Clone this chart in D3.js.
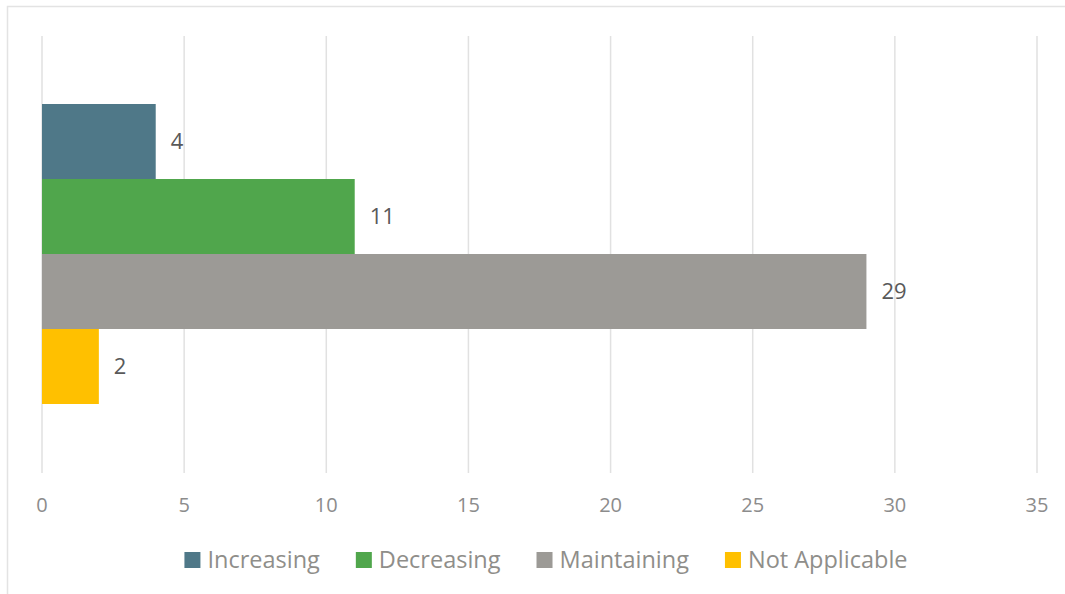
<!DOCTYPE html>
<html>
<head>
<meta charset="utf-8">
<script src="https://cdn.jsdelivr.net/npm/d3@7"></script>
<style>
  body { margin: 0; background: #fff; }
  text { font-family: "Open Sans", "Noto Sans", sans-serif; }
</style>
</head>
<body>
<svg id="chart"></svg>
<script>
const categories = ["Increasing", "Decreasing", "Maintaining", "Not Applicable"];
const values = [4, 11, 29, 2];
const colors = ["#4f7888", "#50a64c", "#9c9a96", "#ffc000"];
const ticks = [0, 5, 10, 15, 20, 25, 30, 35];

const w = 1065;
const h = 594;

const svg = d3.select("#chart")
              .attr("width", w)
              .attr("height", h);

// outer frame
svg.append("rect")
   .attr("x", 7.5)
   .attr("y", 6.5)
   .attr("width", w + 10)
   .attr("height", h + 10)
   .attr("fill", "none")
   .attr("stroke", "#e3e3e3")
   .attr("stroke-width", 1.5);

const x = d3.scaleLinear()
            .domain([0, 35])
            .range([42, 1037]);

const y = d3.scaleBand()
            .domain(categories)
            .range([104, 404])
            .padding(0);

// gridlines
svg.append("g")
   .selectAll("line")
   .data(ticks)
   .enter()
   .append("line")
   .attr("x1", d => x(d))
   .attr("x2", d => x(d))
   .attr("y1", 36)
   .attr("y2", 473)
   .attr("stroke", "#e1e1e1")
   .attr("stroke-width", 1.5);

// tick labels
svg.append("g")
   .selectAll("text")
   .data(ticks)
   .enter()
   .append("text")
   .attr("x", d => x(d))
   .attr("y", 505)
   .attr("dy", "0.35em")
   .attr("text-anchor", "middle")
   .attr("font-size", "20px")
   .attr("fill", "#8c8c8c")
   .text(d => d);

// bars
svg.append("g")
   .selectAll("rect")
   .data(values)
   .enter()
   .append("rect")
   .attr("x", x(0))
   .attr("y", (d, i) => y(categories[i]))
   .attr("width", d => x(d) - x(0))
   .attr("height", y.bandwidth())
   .attr("fill", (d, i) => colors[i]);

// value labels
svg.append("g")
   .selectAll("text")
   .data(values)
   .enter()
   .append("text")
   .attr("x", d => x(d) + 15)
   .attr("y", (d, i) => y(categories[i]) + y.bandwidth() / 2)
   .attr("dy", "0.35em")
   .attr("font-size", "22px")
   .attr("fill", "#595959")
   .text(d => d);

// legend
const legend = svg.append("g");
const items = legend.selectAll("g")
                    .data(categories)
                    .enter()
                    .append("g");

items.append("rect")
     .attr("width", 16)
     .attr("height", 16)
     .attr("y", 552)
     .attr("fill", (d, i) => colors[i]);

items.append("text")
     .attr("x", 23)
     .attr("y", 560)
     .attr("dy", "0.35em")
     .attr("font-size", "23.5px")
     .attr("fill", "#8f8e8a")
     .text(d => d);

let pos = 0;
const offsets = [];
items.each(function () {
  offsets.push(pos);
  const tw = d3.select(this).select("text").node().getComputedTextLength();
  pos += 23 + tw + 36;
});
const total = pos - 36;
const start = 546 - total / 2;
items.attr("transform", (d, i) => "translate(" + (start + offsets[i]) + ",0)");
</script>
</body>
</html>
